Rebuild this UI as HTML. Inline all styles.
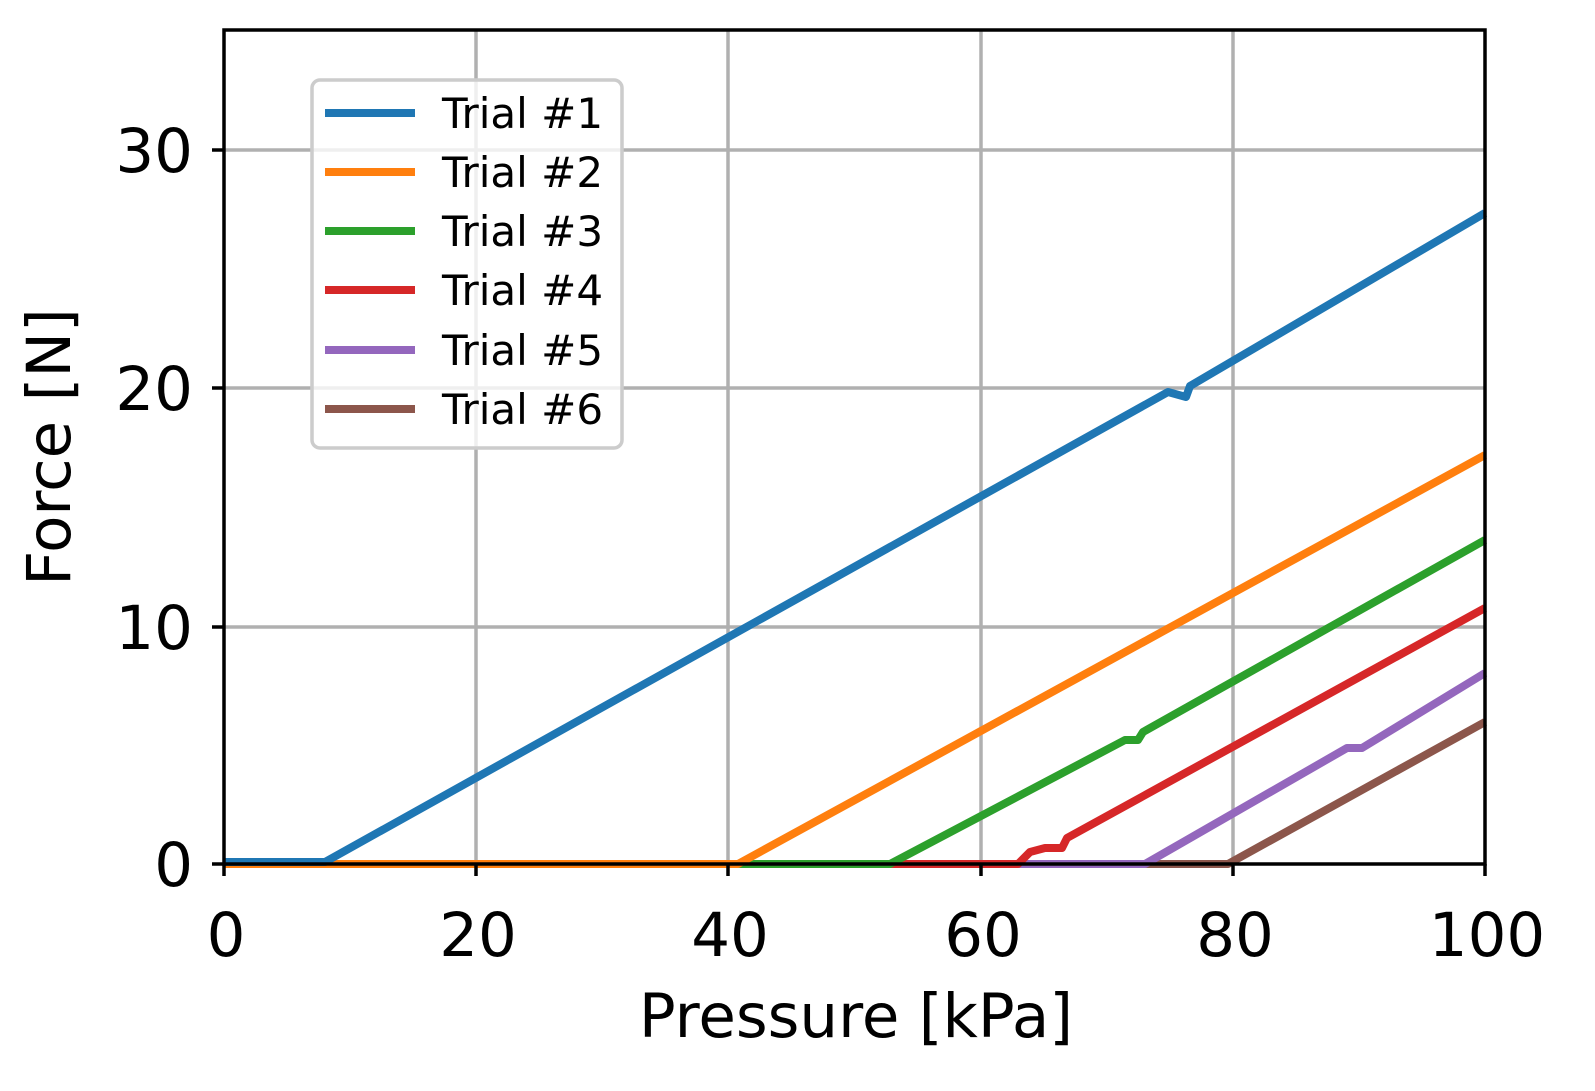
<!DOCTYPE html>
<html><head><meta charset="utf-8"><style>
html,body{margin:0;padding:0;background:#fff;width:1595px;height:1091px;overflow:hidden}
svg{display:block;font-family:"DejaVu Sans","Liberation Sans",sans-serif}
</style></head><body>
<svg width="1595" height="1091" viewBox="0 0 1595 1091" xmlns="http://www.w3.org/2000/svg">
<rect width="1595" height="1091" fill="#fff"/>
<g stroke="#b0b0b0" stroke-width="3.5">
<line x1="476" y1="30" x2="476" y2="864"/>
<line x1="728" y1="30" x2="728" y2="864"/>
<line x1="981" y1="30" x2="981" y2="864"/>
<line x1="1233" y1="30" x2="1233" y2="864"/>
<line x1="224" y1="627" x2="1485" y2="627"/>
<line x1="224" y1="388" x2="1485" y2="388"/>
<line x1="224" y1="150" x2="1485" y2="150"/>
</g>
<g fill="none" stroke-width="8" stroke-linejoin="round">
<polyline stroke="#8c564b" points="224,864 1228,864 1485,722"/>
<polyline stroke="#9467bd" points="224,864 1145,864 1347,748 1362,748 1485,673"/>
<polyline stroke="#d62728" points="224,864 1018,864 1030,852 1045,848 1062,848 1067,838 1485,608"/>
<polyline stroke="#2ca02c" points="224,864 890,864 1125,740 1138,740 1143,732 1485,540"/>
<polyline stroke="#ff7f0e" points="224,864 738,864 1485,455"/>
<polyline stroke="#1f77b4" points="224,862 325,862 1168,392 1186,397 1190,386 1485,213"/>
</g>
<rect x="224" y="30" width="1261" height="834" fill="none" stroke="#000" stroke-width="3.5"/>
<g stroke="#000" stroke-width="3.5">
<line x1="224" y1="864" x2="224" y2="876"/><line x1="476" y1="864" x2="476" y2="876"/>
<line x1="728" y1="864" x2="728" y2="876"/><line x1="981" y1="864" x2="981" y2="876"/>
<line x1="1233" y1="864" x2="1233" y2="876"/><line x1="1485" y1="864" x2="1485" y2="876"/>
<line x1="212" y1="864" x2="224" y2="864"/><line x1="212" y1="627" x2="224" y2="627"/>
<line x1="212" y1="388" x2="224" y2="388"/><line x1="212" y1="150" x2="224" y2="150"/>
</g>
<g font-size="61" fill="#000" text-anchor="middle">
<text x="226" y="956">0</text><text x="478" y="956">20</text><text x="730" y="956">40</text>
<text x="983" y="956">60</text><text x="1235" y="956">80</text><text x="1487" y="956">100</text>
</g>
<g font-size="61" fill="#000" text-anchor="end">
<text x="193" y="886">0</text><text x="193" y="649">10</text><text x="193" y="410">20</text><text x="193" y="172">30</text>
</g>
<text x="856" y="1037" font-size="61" text-anchor="middle">Pressure [kPa]</text>
<text transform="translate(70,447) rotate(-90)" font-size="61" text-anchor="middle">Force [N]</text>
<rect x="312" y="80" width="310" height="368" rx="8" fill="#fff" fill-opacity="0.8" stroke="#ccc" stroke-width="3.5"/>
<g stroke-width="8">
<line x1="325" y1="113" x2="415" y2="113" stroke="#1f77b4"/>
<line x1="325" y1="172" x2="415" y2="172" stroke="#ff7f0e"/>
<line x1="325" y1="231" x2="415" y2="231" stroke="#2ca02c"/>
<line x1="325" y1="290" x2="415" y2="290" stroke="#d62728"/>
<line x1="325" y1="350" x2="415" y2="350" stroke="#9467bd"/>
<line x1="325" y1="409" x2="415" y2="409" stroke="#8c564b"/>
</g>
<g font-size="42" fill="#000">
<text x="442" y="128">Trial #1</text><text x="442" y="187">Trial #2</text>
<text x="442" y="246">Trial #3</text><text x="442" y="305">Trial #4</text>
<text x="442" y="365">Trial #5</text><text x="442" y="424">Trial #6</text>
</g>
</svg>
</body></html>
